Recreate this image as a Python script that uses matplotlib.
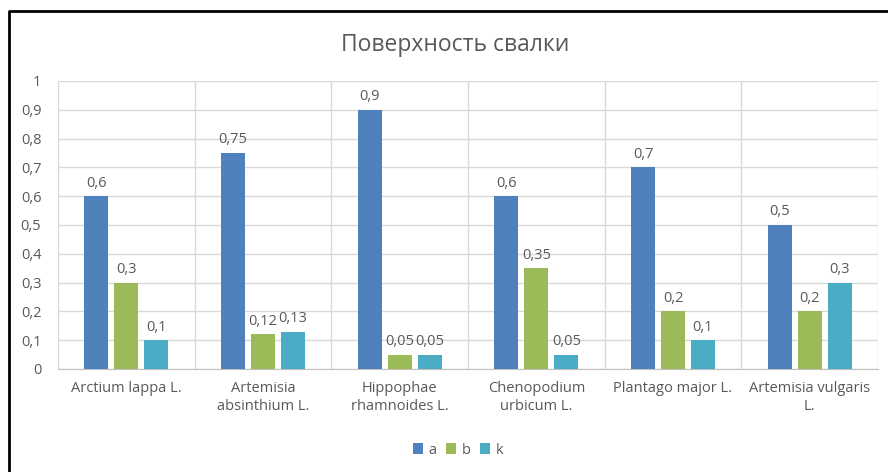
import numpy as np
import matplotlib
matplotlib.use('Agg')
import matplotlib.pyplot as plt
from matplotlib.lines import Line2D
from matplotlib.ticker import FuncFormatter

# ---- data ----
categories = ['Arctium lappa L.', 'Artemisia\nabsinthium L.', 'Hippophae\nrhamnoides L.',
              'Chenopodium\nurbicum L.', 'Plantago major L.', 'Artemisia vulgaris\nL.']
series_names = ['a', 'b', 'k']
a_vals = [0.6, 0.75, 0.9, 0.6, 0.7, 0.5]
b_vals = [0.3, 0.12, 0.05, 0.35, 0.2, 0.2]
k_vals = [0.1, 0.13, 0.05, 0.05, 0.1, 0.3]
y_ticks = [0, 0.1, 0.2, 0.3, 0.4, 0.5, 0.6, 0.7, 0.8, 0.9, 1]
title = 'Поверхность свалки'

colors = ['#4F81BD', '#9BBB59', '#4BACC6']
text_col = '#595959'
grid_col = '#D9D9D9'

plt.rcParams['font.family'] = ['Open Sans', 'DejaVu Sans']

def comma(v, pos=None):
    s = f'{v:.2f}'.rstrip('0').rstrip('.')
    return s.replace('.', ',')

fig = plt.figure(figsize=(8.88, 4.72), dpi=100)
ax = fig.add_axes([58 / 888, 1 - 369 / 472, (878 - 58) / 888, (369 - 81) / 472])

x = np.arange(len(categories))
step = 0.219
width = 0.175
for i, (vals, name) in enumerate(zip([a_vals, b_vals, k_vals], series_names)):
    bars = ax.bar(x + (i - 1) * step, vals, width, color=colors[i], label=name, zorder=3)
    ax.bar_label(bars, labels=[comma(v) for v in vals], padding=4,
                 fontsize=10.5, color=text_col)

ax.set_xlim(-0.5, len(categories) - 0.5)
ax.set_ylim(0, 1)
ax.set_yticks(y_ticks)
ax.yaxis.set_major_formatter(FuncFormatter(comma))
ax.set_xticks(x)
ax.set_xticklabels(categories)
ax.set_xticks(np.arange(-0.5, len(categories), 1), minor=True)

ax.grid(axis='y', which='major', color=grid_col, linewidth=1, zorder=0)
ax.grid(axis='x', which='minor', color=grid_col, linewidth=1, zorder=0)
ax.grid(axis='x', which='major', visible=False)

for s in ['top', 'right', 'left']:
    ax.spines[s].set_visible(False)
ax.spines['bottom'].set_color('#BFBFBF')
ax.tick_params(axis='both', which='both', length=0, labelsize=10.5, labelcolor=text_col)
ax.tick_params(axis='y', pad=12)
ax.tick_params(axis='x', pad=9)

fig.text(455 / 888, 1 - 45 / 472, title, ha='center', va='center',
         fontsize=16.5, color=text_col)

fig.legend(loc='center', bbox_to_anchor=(458 / 888, 1 - 450 / 472), ncol=3,
           frameon=False, fontsize=10.5, labelcolor=text_col,
           handlelength=0.7, handleheight=0.7, handletextpad=0.4, columnspacing=0.6)

# black frame around the chart (left and top visible)
fig.add_artist(Line2D([9 / 888, 9 / 888, 1], [0, 1 - 11 / 472, 1 - 11 / 472],
                      transform=fig.transFigure, color='black', linewidth=2))

fig.savefig('out.png', dpi=100)
